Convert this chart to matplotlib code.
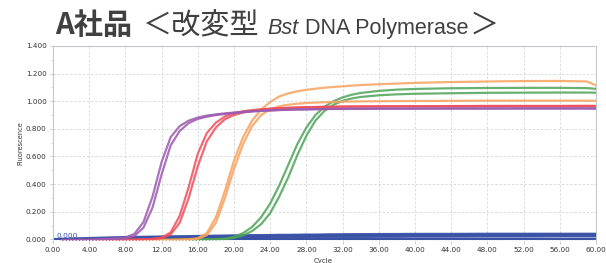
import numpy as np
import matplotlib
matplotlib.use("Agg")
import matplotlib.pyplot as plt
from matplotlib.ticker import MultipleLocator, FormatStrFormatter

cycles = [1, 4, 8, 9, 10, 11, 12, 13, 14, 15, 16, 17, 18, 19, 20, 21, 22, 23, 24, 25,
          26, 27, 28, 29, 30, 31, 32, 33, 34, 36, 38, 40, 44, 48, 52, 56, 59, 60]

purple_1 = [-0.005, -0.003, 0.012, 0.040, 0.125, 0.310, 0.560, 0.740, 0.820, 0.860,
            0.882, 0.896, 0.905, 0.912, 0.918, 0.923, 0.928, 0.931, 0.934, 0.937,
            0.939, 0.941, 0.942, 0.943, 0.944, 0.945, 0.945, 0.946, 0.946, 0.947,
            0.947, 0.948, 0.948, 0.948, 0.949, 0.949, 0.949, 0.949]
purple_2 = [-0.006, -0.004, 0.006, 0.024, 0.085, 0.230, 0.470, 0.680, 0.785, 0.842,
            0.872, 0.888, 0.900, 0.908, 0.915, 0.921, 0.926, 0.930, 0.933, 0.936,
            0.938, 0.940, 0.941, 0.942, 0.943, 0.944, 0.944, 0.945, 0.945, 0.946,
            0.946, 0.946, 0.947, 0.947, 0.947, 0.947, 0.947, 0.946]
red_1 = [-0.006, -0.005, -0.003, -0.002, 0.000, 0.003, 0.012, 0.050, 0.170, 0.380,
         0.620, 0.770, 0.845, 0.890, 0.913, 0.927, 0.936, 0.942, 0.947, 0.950,
         0.953, 0.955, 0.957, 0.958, 0.959, 0.960, 0.961, 0.961, 0.962, 0.963,
         0.963, 0.964, 0.964, 0.965, 0.965, 0.965, 0.965, 0.965]
red_2 = [-0.007, -0.006, -0.004, -0.003, -0.001, 0.002, 0.008, 0.035, 0.120, 0.300,
         0.530, 0.710, 0.810, 0.870, 0.900, 0.918, 0.930, 0.938, 0.944, 0.948,
         0.951, 0.954, 0.956, 0.958, 0.959, 0.960, 0.961, 0.962, 0.962, 0.963,
         0.964, 0.964, 0.965, 0.966, 0.966, 0.966, 0.967, 0.966]
orange_1 = [-0.008, -0.007, -0.006, -0.005, -0.005, -0.004, -0.004, -0.003, -0.002, 0.000,
            0.008, 0.045, 0.160, 0.350, 0.570, 0.740, 0.860, 0.940, 0.995, 1.035,
            1.057, 1.072, 1.083, 1.091, 1.098, 1.103, 1.108, 1.113, 1.117, 1.123,
            1.128, 1.133, 1.139, 1.143, 1.146, 1.147, 1.143, 1.115]
orange_2 = [-0.008, -0.007, -0.006, -0.006, -0.005, -0.005, -0.004, -0.004, -0.003, -0.001,
            0.004, 0.030, 0.120, 0.300, 0.510, 0.690, 0.820, 0.900, 0.942, 0.963,
            0.975, 0.982, 0.987, 0.990, 0.993, 0.995, 0.997, 0.998, 0.999, 1.000,
            1.001, 1.002, 1.003, 1.004, 1.004, 1.004, 1.004, 1.003]
green_1 = [-0.008, -0.007, -0.007, -0.006, -0.006, -0.005, -0.005, -0.004, -0.004, -0.003,
           -0.002, 0.000, 0.002, 0.005, 0.018, 0.045, 0.090, 0.160, 0.260, 0.390,
           0.540, 0.690, 0.810, 0.900, 0.960, 1.000, 1.028, 1.047, 1.060, 1.075,
           1.084, 1.089, 1.094, 1.096, 1.097, 1.097, 1.095, 1.090]
green_2 = [-0.009, -0.008, -0.008, -0.007, -0.007, -0.006, -0.006, -0.005, -0.005, -0.004,
           -0.003, -0.002, 0.000, 0.002, 0.010, 0.028, 0.060, 0.110, 0.190, 0.310,
           0.450, 0.610, 0.750, 0.860, 0.930, 0.975, 1.003, 1.020, 1.031, 1.043,
           1.050, 1.054, 1.058, 1.061, 1.062, 1.063, 1.063, 1.062]
blue_1 = [0.000, 0.006, 0.012, 0.013, 0.014, 0.015, 0.016, 0.017, 0.018, 0.019,
          0.020, 0.021, 0.022, 0.023, 0.024, 0.025, 0.026, 0.026, 0.027, 0.028,
          0.028, 0.029, 0.030, 0.030, 0.031, 0.031, 0.032, 0.032, 0.033, 0.033,
          0.034, 0.034, 0.035, 0.035, 0.036, 0.036, 0.036, 0.036]
blue_2 = [-0.004, 0.001, 0.006, 0.007, 0.008, 0.009, 0.010, 0.011, 0.012, 0.012,
          0.013, 0.014, 0.015, 0.016, 0.016, 0.017, 0.018, 0.018, 0.019, 0.020,
          0.020, 0.021, 0.021, 0.022, 0.022, 0.023, 0.023, 0.024, 0.024, 0.025,
          0.025, 0.026, 0.026, 0.027, 0.027, 0.028, 0.028, 0.028]
blue_3 = [0.002, 0.009, 0.016, 0.017, 0.018, 0.019, 0.020, 0.021, 0.022, 0.023,
          0.024, 0.025, 0.026, 0.027, 0.028, 0.029, 0.030, 0.030, 0.031, 0.032,
          0.032, 0.033, 0.034, 0.034, 0.035, 0.036, 0.036, 0.037, 0.037, 0.038,
          0.038, 0.039, 0.039, 0.040, 0.040, 0.040, 0.040, 0.040]
blue_4 = [-0.007, -0.004, 0.000, 0.001, 0.002, 0.003, 0.004, 0.005, 0.006, 0.006,
          0.007, 0.008, 0.009, 0.010, 0.010, 0.011, 0.012, 0.012, 0.013, 0.014,
          0.014, 0.015, 0.015, 0.016, 0.016, 0.017, 0.017, 0.018, 0.018, 0.019,
          0.019, 0.020, 0.020, 0.021, 0.021, 0.022, 0.022, 0.022]
threshold = 0.0

PURPLE = "#9b5aae"
RED = "#ee4f5c"
ORANGE = "#f7a15e"
GREEN = "#4fa45a"
BLUE = "#3a52a6"
TITLE_C = "#404040"

fig = plt.figure(figsize=(6.06, 2.63), dpi=100)
ax = fig.add_axes([53 / 606, 1 - 241 / 263, 543 / 606, 195 / 263])

ax.axhline(threshold, color=BLUE, lw=1.6, zorder=2)
for y in [blue_4, blue_2, blue_1, blue_3]:
    ax.plot(cycles, y, color=BLUE, lw=1.7, alpha=0.9, zorder=3)
for y, c in [(green_1, GREEN), (green_2, GREEN), (orange_1, ORANGE), (orange_2, ORANGE),
             (red_1, RED), (red_2, RED), (purple_1, PURPLE), (purple_2, PURPLE)]:
    ax.plot(cycles, y, color=c, lw=1.6, alpha=0.85, zorder=4)
ax.axhline(threshold - 0.004, color="white", lw=0.6, ls=(0, (2.5, 1.5)), zorder=5)
ax.text(0.4, 0.009, "0.000", color=BLUE, fontsize=5.3, zorder=6)

ax.set_xlim(0, 60)
ax.set_ylim(-0.012, 1.4)
ax.xaxis.set_major_locator(MultipleLocator(4))
ax.yaxis.set_major_locator(MultipleLocator(0.2))
ax.yaxis.set_minor_locator(MultipleLocator(0.1))
ax.xaxis.set_major_formatter(FormatStrFormatter("%.2f"))
ax.yaxis.set_major_formatter(FormatStrFormatter("%.3f"))
ax.grid(True, color="#d3d7db", lw=0.6, ls=(0, (3, 2)))
ax.tick_params(axis="both", labelsize=5.2, colors="#c0c4c8", labelcolor="#333333",
               length=2.5, width=0.6, pad=2)
ax.tick_params(axis="y", which="minor", length=1.5, width=0.5, colors="#c0c4c8")
for s in ax.spines.values():
    s.set_color("#c4c8cc")
    s.set_linewidth(0.8)
ax.spines["bottom"].set_visible(False)

fig.text(20 / 606, 1 - 143 / 263, "Fluorescence", rotation=90, fontsize=4.8,
         color="#333333", ha="center", va="center")
fig.text(323 / 606, 1 - 261 / 263, "Cycle", fontsize=5, color="#333333",
         ha="center", va="center")

# title pieces laid out left to right (text, font kwargs, gap after in px)
latin = ["Liberation Sans", "DejaVu Sans"]
cjk = ["Noto Sans CJK JP"]
pieces = [
    ("A社品", dict(family=cjk, fontsize=21, fontweight="bold"), 11),
    ("＜改変型", dict(family=cjk, fontsize=21), 8),
    ("Bst", dict(family=latin, fontsize=15.5, style="italic"), 6),
    ("DNA Polymerase", dict(family=latin, fontsize=15.5), 1),
    ("＞", dict(family=cjk, fontsize=21), 0),
]
renderer = fig.canvas.get_renderer()
x = 55
for txt, kw, gap in pieces:
    t = fig.text(x / 606, 1 - 34 / 263, txt, color=TITLE_C, va="baseline", **kw)
    bb = t.get_window_extent(renderer=renderer)
    x = bb.x1 + gap

fig.savefig("out.png", dpi=100)
